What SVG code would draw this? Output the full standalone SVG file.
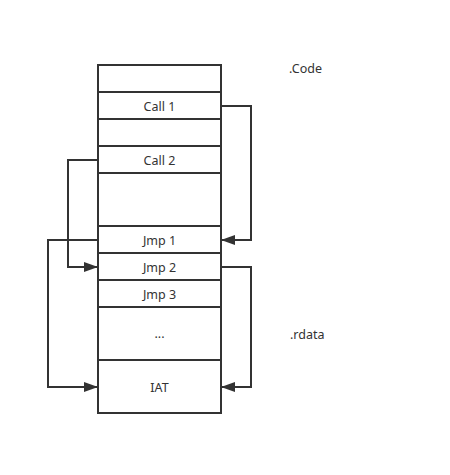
<svg xmlns="http://www.w3.org/2000/svg" width="450" height="475" viewBox="0 0 450 475">
<defs>
<style>
.cell{fill:#fff;stroke:#333;stroke-width:2}
.t{font-family:"Noto Sans","DejaVu Sans",sans-serif;font-size:12.5px;fill:#333;text-anchor:middle}
.lbl{font-family:"Noto Sans","DejaVu Sans",sans-serif;font-size:12.5px;fill:#333}
.c{fill:none;stroke:#333;stroke-width:2;marker-end:url(#ah)}
</style>
<marker id="ah" markerWidth="14" markerHeight="10" refX="13" refY="5" orient="auto" markerUnits="userSpaceOnUse">
<path d="M0,0 L14,5 L0,10 Z" fill="#333"/>
</marker>
</defs>
<rect width="450" height="475" fill="#fff"/>
<g id="r0"><rect class="cell" x="98" y="65" width="123" height="27"/></g>
<g id="call1"><rect class="cell" x="98" y="92" width="123" height="27"/><text class="t" x="159.5" y="110.5">Call 1</text></g>
<g id="r2"><rect class="cell" x="98" y="119" width="123" height="27"/></g>
<g id="call2"><rect class="cell" x="98" y="146" width="123" height="27"/><text class="t" x="159.5" y="164.5">Call 2</text></g>
<g id="r4"><rect class="cell" x="98" y="173" width="123" height="53"/></g>
<g id="jmp1"><rect class="cell" x="98" y="226" width="123" height="27"/><text class="t" x="159.5" y="244.5">Jmp 1</text></g>
<g id="jmp2"><rect class="cell" x="98" y="253" width="123" height="27"/><text class="t" x="159.5" y="271.5">Jmp 2</text></g>
<g id="jmp3"><rect class="cell" x="98" y="280" width="123" height="27"/><text class="t" x="159.5" y="298.5">Jmp 3</text></g>
<g id="dots"><rect class="cell" x="98" y="307" width="123" height="53"/><text class="t" x="159.5" y="338">...</text></g>
<g id="iat"><rect class="cell" x="98" y="360" width="123" height="53"/><text class="t" x="159.5" y="391.5">IAT</text></g>
<g id="code"><text class="lbl" x="289" y="73">.Code</text></g>
<g id="rdata"><text class="lbl" x="290" y="339">.rdata</text></g>
<g id="connectors">
<path class="c" d="M221,106 H251 V240 H222"/>
<path class="c" d="M98,160 H68 V267 H97"/>
<path class="c" d="M98,240 H48 V387 H97"/>
<path class="c" d="M221,267 H251 V387 H222"/>
</g>
</svg>
